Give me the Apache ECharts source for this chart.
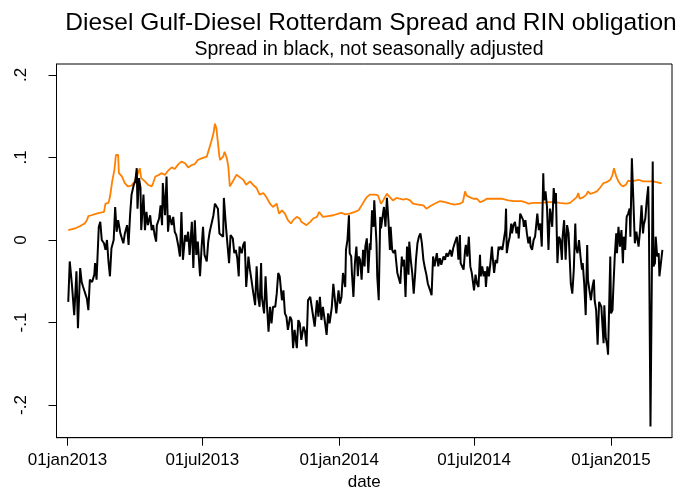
<!DOCTYPE html>
<html>
<head>
<meta charset="utf-8">
<script src="https://cdn.jsdelivr.net/npm/echarts@6/dist/echarts.min.js"></script>
<style>
html,body{margin:0;padding:0;background:#fff;}
#chart{width:680px;height:489px;}
</style>
</head>
<body>
<div id="chart"></div>
<script>
// Day offsets from 01jan2013 and values of the Gulf-Rotterdam diesel spread (black)
const spreadDay = [
1,3,6,9,12,14,17,19,21,23,
26,28,30,33,36,37,39,42,44,46,
49,51,53,55,57,59,62,64,66,68,
71,73,75,77,80,82,84,86,89,91,
93,94,96,98,99,102,104,106,108,111,
113,115,117,119,120,123,125,127,128,131,
133,135,137,140,142,144,146,149,151,153,
155,158,160,162,164,167,169,171,173,175,
178,180,182,184,187,189,191,193,196,198,
200,202,204,206,209,210,213,215,217,219,
222,224,226,228,230,231,234,236,238,240,
243,245,247,249,252,254,256,258,260,261,
264,266,268,270,272,274,276,279,281,283,
285,288,290,292,294,296,299,301,303,305,
308,310,312,314,317,319,321,323,326,328,
330,332,335,337,339,341,343,346,348,350,
352,355,357,359,361,364,366,368,370,373,
374,376,378,379,381,382,384,386,388,390,
391,393,395,397,399,400,402,404,406,407,
409,411,412,415,416,418,420,421,423,425,
427,429,431,433,434,436,438,440,441,443,
445,447,449,450,452,454,456,458,459,461,
463,465,467,468,470,472,474,476,478,480,
482,484,487,489,491,493,496,498,500,502,
505,507,509,511,514,516,518,520,523,525,
527,528,530,532,534,535,537,539,541,543,
545,546,548,550,552,554,555,557,559,561,
562,564,566,568,570,571,573,575,577,579,
580,582,584,586,588,589,590,592,594,596,
597,599,601,603,605,606,608,610,612,613,
615,617,619,621,622,624,626,628,630,631,
633,635,637,639,640,642,644,646,648,649,
651,653,655,656,658,660,662,664,665,667,
669,671,673,674,676,678,680,682,683,685,
687,689,691,692,694,696,698,699,701,703,
705,707,708,710,712,714,716,717,720,721,
723,725,726,729,730,732,733,735,737,738,
740,742,744,746,747,749,751,753,755,756,
758,760,762,764,765,767,769,771,773,774,
776,778,780,781,783,785,786,787,789,790,
792,794,795,797,799
];
const spreadValue = [
-0.075,-0.026,-0.055,-0.091,-0.038,-0.107,-0.034,-0.051,-0.057,-0.059,
-0.071,-0.085,-0.048,-0.051,-0.042,-0.028,-0.048,0.016,0.022,0.000,
-0.004,-0.012,0.000,-0.026,-0.044,-0.010,0.000,0.040,0.010,0.024,
0.008,0.002,-0.004,0.008,0.018,-0.006,0.030,0.055,0.067,0.071,
0.087,0.038,0.075,0.063,0.012,0.055,0.012,0.034,0.018,0.030,
0.012,0.018,0.006,-0.002,0.018,0.026,0.042,0.018,0.069,0.030,
0.077,0.010,0.030,0.018,0.028,0.010,0.006,-0.008,-0.020,0.034,
-0.024,0.006,-0.002,0.010,-0.018,0.022,-0.034,0.024,-0.018,-0.002,
-0.044,-0.010,0.016,-0.018,-0.026,-0.002,0.010,0.008,0.030,0.044,
0.042,0.038,0.008,0.006,0.004,0.051,0.014,0.012,-0.028,0.006,
0.002,-0.016,-0.012,-0.022,-0.044,-0.008,-0.016,-0.006,-0.002,-0.057,
-0.020,-0.036,-0.048,-0.061,-0.079,-0.032,-0.069,-0.081,-0.028,-0.069,
-0.089,-0.044,-0.081,-0.111,-0.081,-0.101,-0.081,-0.081,-0.065,-0.040,
-0.044,-0.073,-0.061,-0.089,-0.093,-0.109,-0.093,-0.097,-0.131,-0.109,
-0.131,-0.097,-0.101,-0.121,-0.105,-0.111,-0.129,-0.073,-0.069,-0.071,
-0.093,-0.105,-0.073,-0.093,-0.069,-0.097,-0.081,-0.101,-0.115,-0.089,
-0.101,-0.081,-0.053,-0.051,-0.089,-0.061,-0.077,-0.069,-0.040,-0.057,
-0.012,0.000,0.030,-0.016,-0.020,-0.040,-0.069,-0.028,-0.008,-0.044,
-0.020,-0.024,-0.048,-0.012,-0.032,-0.008,0.002,-0.040,-0.004,-0.012,
0.036,0.016,0.048,-0.004,-0.044,-0.073,0.028,0.014,0.012,0.040,
0.016,0.051,0.024,-0.012,0.016,-0.012,-0.016,-0.012,-0.022,-0.040,
-0.040,-0.053,-0.020,-0.032,-0.024,-0.069,-0.008,-0.042,-0.002,-0.024,
-0.040,-0.065,-0.040,-0.024,-0.004,0.004,0.008,-0.004,-0.024,-0.034,
-0.042,-0.053,-0.061,-0.067,-0.020,-0.032,-0.016,-0.032,-0.022,-0.030,
-0.020,-0.024,-0.016,-0.020,-0.012,-0.020,-0.010,-0.004,0.004,-0.024,
0.006,-0.028,-0.030,-0.036,-0.012,-0.006,-0.020,0.004,-0.032,-0.040,
-0.040,-0.061,-0.042,-0.053,-0.057,-0.018,-0.044,-0.032,-0.044,-0.038,
-0.057,-0.032,-0.044,-0.028,-0.008,-0.020,-0.040,-0.024,-0.028,-0.008,
-0.012,-0.008,-0.012,0.000,0.012,0.038,-0.016,-0.004,0.004,0.020,
0.008,0.018,0.022,0.008,0.016,0.002,0.032,0.034,0.024,0.016,
0.024,0.008,-0.004,0.004,-0.008,-0.012,0.000,0.004,0.002,0.032,
0.012,0.020,-0.008,0.081,0.048,0.059,0.040,-0.012,0.038,0.032,
0.016,0.063,0.044,0.057,-0.028,0.004,0.000,-0.024,0.004,0.024,
-0.024,0.018,0.008,-0.012,-0.053,-0.065,-0.036,0.020,-0.008,-0.016,
0.000,-0.020,-0.036,-0.028,-0.053,-0.091,-0.006,-0.048,-0.061,-0.073,
-0.057,-0.048,-0.073,-0.085,-0.127,-0.075,-0.073,-0.081,-0.125,-0.079,
-0.119,-0.129,-0.139,-0.020,-0.089,-0.085,-0.061,-0.020,0.008,-0.016,
0.016,-0.008,0.012,-0.028,0.004,-0.012,0.028,0.032,0.038,0.004,
0.099,0.048,-0.004,0.010,0.004,-0.008,0.012,0.042,0.008,0.018,
0.026,0.048,0.065,0.008,-0.226,-0.028,0.095,-0.032,-0.028,0.004,
-0.020,-0.016,-0.044,-0.046,-0.012
];
// Day offsets and values of the RIN obligation (orange)
const rinDay = [
1,10,17,23,26,28,32,39,43,49,
51,55,57,60,63,65,68,69,73,77,
81,86,90,94,97,99,104,108,113,115,
118,123,126,131,135,140,144,149,153,158,
162,167,171,175,180,187,189,193,196,198,
200,202,204,205,209,211,214,216,218,222,
227,229,233,236,240,245,249,254,258,263,
267,272,276,281,284,288,292,296,300,303,
308,312,314,321,326,330,335,338,340,343,
350,357,364,368,373,379,386,391,395,397,
399,402,406,413,417,421,424,429,433,437,
442,446,451,455,460,464,471,478,482,487,
493,500,507,514,520,527,531,534,536,540,
545,550,554,558,563,570,576,583,588,592,
599,605,610,614,619,626,632,637,646,655,
661,670,675,679,684,686,688,693,697,699,
702,706,711,715,720,724,729,732,734,737,
740,743,746,750,753,758,762,767,773,780,
787,791,796,798
];
const rinValue = [
0.012,0.014,0.017,0.020,0.024,0.029,0.030,0.032,0.033,0.034,
0.044,0.045,0.052,0.071,0.085,0.103,0.103,0.081,0.077,0.069,
0.065,0.066,0.071,0.079,0.087,0.075,0.071,0.067,0.065,0.069,
0.077,0.079,0.081,0.079,0.084,0.088,0.086,0.092,0.095,0.093,
0.088,0.091,0.092,0.097,0.099,0.101,0.107,0.119,0.129,0.141,
0.135,0.135,0.101,0.097,0.101,0.107,0.099,0.089,0.065,0.071,
0.079,0.081,0.075,0.073,0.067,0.071,0.067,0.063,0.055,0.057,
0.052,0.044,0.040,0.044,0.032,0.036,0.032,0.024,0.020,0.024,
0.028,0.026,0.022,0.018,0.022,0.026,0.028,0.034,0.032,0.028,
0.029,0.030,0.032,0.033,0.031,0.032,0.034,0.036,0.042,0.042,
0.048,0.052,0.055,0.055,0.054,0.044,0.048,0.056,0.052,0.048,
0.051,0.050,0.049,0.050,0.048,0.044,0.043,0.042,0.038,0.041,
0.044,0.047,0.046,0.044,0.043,0.044,0.046,0.059,0.054,0.052,
0.050,0.050,0.046,0.047,0.050,0.050,0.050,0.050,0.049,0.048,
0.047,0.047,0.047,0.046,0.044,0.045,0.045,0.045,0.046,0.046,
0.045,0.044,0.045,0.048,0.052,0.057,0.050,0.052,0.055,0.059,
0.056,0.057,0.059,0.063,0.069,0.070,0.073,0.079,0.087,0.077,
0.071,0.067,0.065,0.067,0.072,0.071,0.072,0.073,0.071,0.071,
0.071,0.070,0.069,0.069
];
// Axis ticks
const xTickDates = ['2013-01-01','2013-07-01','2014-01-01','2014-07-01','2015-01-01'];
const xTickLabels = ['01jan2013','01jul2013','01jan2014','01jul2014','01jan2015'];
const yTicks = [-0.2,-0.1,0,0.1,0.2];
const yTickLabels = ['-.2','-.1','0','.1','.2'];

const DAY = 86400000;
const T0 = Date.UTC(2013,0,1);
const ts = d => T0 + d * DAY;
const xTickTs = xTickDates.map(s => Date.parse(s + 'T00:00:00Z'));
const FONT = 'Liberation Sans, Arial, Helvetica, sans-serif';

const chart = echarts.init(document.getElementById('chart'), null, {renderer:'canvas'});
chart.setOption({
  animation: false,
  backgroundColor: '#fff',
  title: [
    {text: 'Diesel Gulf-Diesel Rotterdam Spread and RIN obligation', left: 366, top: 6, textAlign: 'center',
     textStyle: {fontSize: 24.5, fontWeight: 'normal', color: '#000', fontFamily: FONT}},
    {text: 'Spread in black, not seasonally adjusted', left: 364, top: 35, textAlign: 'center',
     textStyle: {fontSize: 19.5, fontWeight: 'normal', color: '#000', fontFamily: FONT}}
  ],
  grid: {left: 56.5, right: 8, top: 64, bottom: 51.3, show: true, borderColor: '#000', borderWidth: 1,
         containLabel: false, outerBoundsMode: 'none'},
  xAxis: {
    type: 'value',
    min: ts(-14.8), max: ts(811.9),
    splitLine: {show: false},
    axisLine: {show: true, onZero: false, lineStyle: {color: '#000', width: 1}},
    axisTick: {show: true, customValues: xTickTs, length: 8, lineStyle: {color: '#000', width: 1}},
    axisLabel: {customValues: xTickTs, margin: 14, color: '#000', fontSize: 17, fontFamily: FONT,
      formatter: v => { const i = xTickTs.indexOf(v); return i >= 0 ? xTickLabels[i] : ''; }},
    name: 'date', nameLocation: 'middle', nameGap: 35,
    nameTextStyle: {color: '#000', fontSize: 17, fontFamily: FONT}
  },
  yAxis: {
    type: 'value',
    min: -0.2396, max: 0.2133,
    splitLine: {show: false},
    axisLine: {show: true, onZero: false, lineStyle: {color: '#000', width: 1}},
    axisTick: {show: true, customValues: yTicks, length: 8, lineStyle: {color: '#000', width: 1}},
    axisLabel: {customValues: yTicks, rotate: 90, margin: 27, color: '#000', fontSize: 17, fontFamily: FONT,
      formatter: v => { const i = yTicks.findIndex(t => Math.abs(t - v) < 1e-9); return i >= 0 ? yTickLabels[i] : ''; }}
  },
  series: [
    {name: 'RIN obligation', type: 'line', showSymbol: false, symbol: 'none', silent: true,
     lineStyle: {color: '#ff7f00', width: 1.8}, itemStyle: {color: '#ff7f00'},
     data: rinDay.map((d, i) => [ts(d), rinValue[i]])},
    {name: 'Spread', type: 'line', showSymbol: false, symbol: 'none', silent: true,
     lineStyle: {color: '#000', width: 2}, itemStyle: {color: '#000'},
     data: spreadDay.map((d, i) => [ts(d), spreadValue[i]])}
  ]
});
</script>
</body>
</html>
